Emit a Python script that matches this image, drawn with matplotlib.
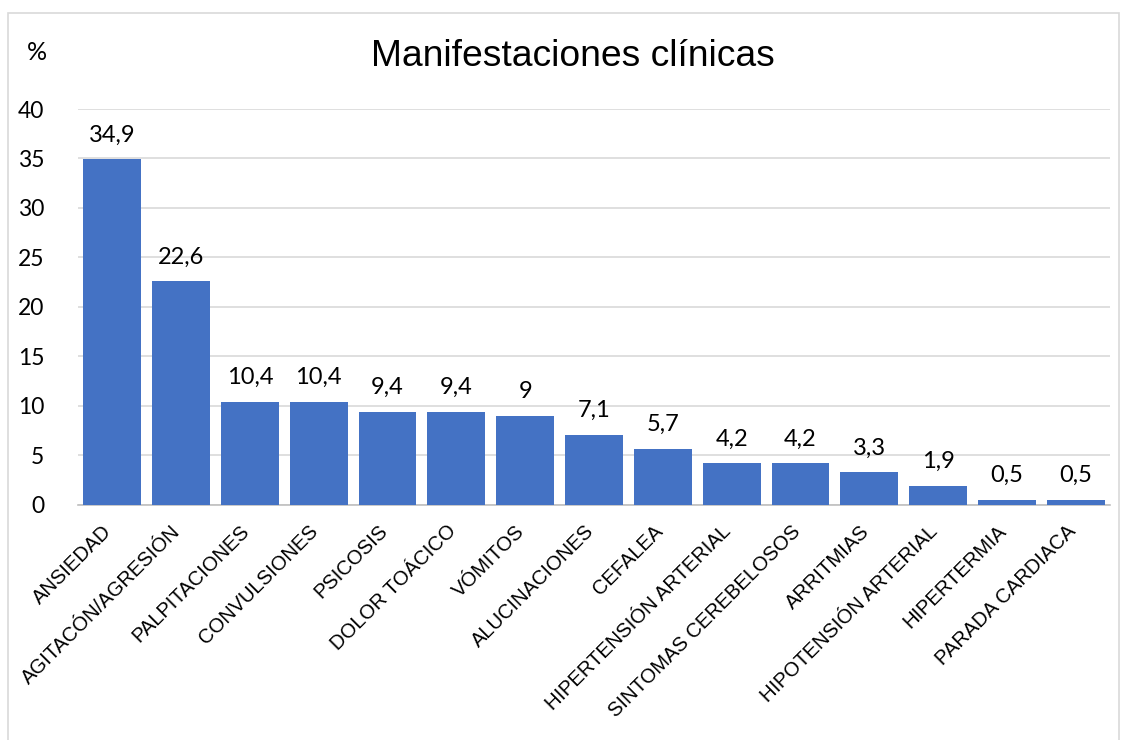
import matplotlib.pyplot as plt
import matplotlib.transforms as mtransforms
from matplotlib.patches import Rectangle

# Data
categories = ['ANSIEDAD', 'AGITACÓN/AGRESIÓN', 'PALPITACIONES', 'CONVULSIONES',
              'PSICOSIS', 'DOLOR TOÁCICO', 'VÓMITOS', 'ALUCINACIONES', 'CEFALEA',
              'HIPERTENSIÓN ARTERIAL', 'SINTOMAS CEREBELOSOS', 'ARRITMIAS',
              'HIPOTENSIÓN ARTERIAL', 'HIPERTERMIA', 'PARADA CARDIACA']
values = [34.9, 22.6, 10.4, 10.4, 9.4, 9.4, 9, 7.1, 5.7, 4.2, 4.2, 3.3, 1.9, 0.5, 0.5]
value_labels = ['34,9', '22,6', '10,4', '10,4', '9,4', '9,4', '9', '7,1', '5,7',
                '4,2', '4,2', '3,3', '1,9', '0,5', '0,5']
yticks = [0, 5, 10, 15, 20, 25, 30, 35, 40]

num_font = ['Lato', 'DejaVu Sans']
lbl_font = ['Liberation Sans', 'DejaVu Sans']

fig = plt.figure(figsize=(11.26, 7.4), dpi=100)
ax = fig.add_axes([0.069, 0.3176, 0.917, 0.5351])

x = range(len(categories))
ax.bar(x, values, width=0.84, color='#4472C4', zorder=3)

# value labels above bars
for xi, v, lab in zip(x, values, value_labels):
    ax.text(xi, v + 1.4, lab, ha='center', va='bottom', fontsize=17, family=num_font)

ax.set_ylim(0, 40)
ax.set_xlim(-0.5, len(categories) - 0.5)
ax.set_yticks(yticks)
ax.set_yticklabels([str(t) for t in yticks], fontsize=16.5, family=num_font)
ax.yaxis.grid(True, color='#D9D9D9', linewidth=1.2, zorder=0)
ax.tick_params(axis='y', length=0, pad=24)
ax.tick_params(axis='x', length=0, pad=12)

ax.set_xticks(list(x))
ax.set_xticklabels(categories, rotation=45, ha='right', rotation_mode='anchor',
                   fontsize=14.5, family=lbl_font)
# nudge the rotated labels a little to the left, like the original
shift = mtransforms.ScaledTranslation(-0.10, 0, fig.dpi_scale_trans)
for t in ax.get_xticklabels():
    t.set_transform(t.get_transform() + shift)

for side in ['top', 'right', 'left']:
    ax.spines[side].set_visible(False)
ax.spines['bottom'].set_color('#BFBFBF')
ax.spines['bottom'].set_linewidth(1.2)

fig.text(0.509, 0.923, 'Manifestaciones clínicas', ha='center', va='center',
         fontsize=26.8, family=lbl_font)
fig.text(0.033, 0.929, '%', ha='center', va='center', fontsize=18, family=num_font)

# light border around the chart area
fig.patches.append(Rectangle((0.007, -0.01), 0.987, 0.993, transform=fig.transFigure,
                             fill=False, edgecolor='#D9D9D9', linewidth=1.2))

fig.savefig('out.png', dpi=100)
